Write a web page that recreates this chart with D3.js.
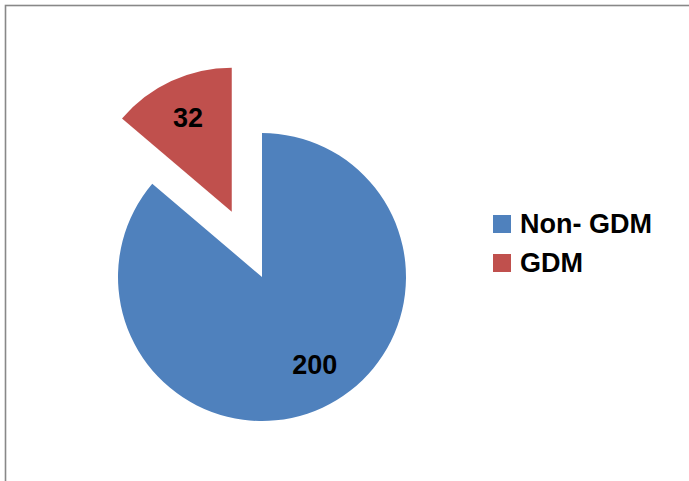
<!DOCTYPE html>
<meta charset="utf-8">
<style>
body{ margin: 0; background: white; }
svg{ display: block; font-family: "Liberation Sans", Arial, sans-serif; }
</style>
<body>
<div id="chart"></div>
<script src="https://cdn.jsdelivr.net/npm/d3@7"></script>
<script>
var categories = ['Non- GDM', 'GDM']
var values = [200, 32]
var colors = ['#4F81BD', '#C0504D']
var exploded = [0, 72]

var width = 689, height = 481,
    cx = 262, cy = 277, r = 144

var svg = d3.select('#chart').append('svg')
    .attr('width', width)
    .attr('height', height)

// chart frame (right and bottom run off the picture)
svg.append('rect')
    .attr('x', 5.5).attr('y', 5.5)
    .attr('width', 720).attr('height', 520)
    .attr('fill', 'none')
    .attr('stroke', '#888')
    .attr('stroke-width', 1.6)

var pie = d3.pie().sort(null)
var arcs = pie(values)
var arc = d3.arc().innerRadius(0).outerRadius(r)
var labelArc = d3.arc().innerRadius(104).outerRadius(104)

var g = svg.append('g').attr('transform', 'translate(' + cx + ',' + cy + ')')

var slice = g.selectAll('g.slice').data(arcs).enter()
  .append('g')
    .attr('class', 'slice')
    .attr('transform', function(d, i){
      var a = (d.startAngle + d.endAngle) / 2
      return 'translate(' + exploded[i] * Math.sin(a) + ',' + (-exploded[i] * Math.cos(a)) + ')'
    })

slice.append('path')
    .attr('d', arc)
    .attr('fill', function(d, i){ return colors[i] })

slice.append('text')
    .attr('transform', function(d){
      var c = labelArc.centroid(d)
      // best-fit nudge: large slice label sits a bit toward the right
      if (d.endAngle - d.startAngle > Math.PI) c[0] += 9, c[1] -= 7
      return 'translate(' + c + ')'
    })
    .attr('text-anchor', 'middle')
    .attr('dy', '0.35em')
    .attr('font-size', 27)
    .attr('font-weight', 'bold')
    .attr('fill', '#000')
    .text(function(d){ return d.value })

// legend
var legend = svg.selectAll('g.legend').data(categories).enter()
  .append('g')
    .attr('class', 'legend')
    .attr('transform', function(d, i){ return 'translate(493,' + (215 + i * 39) + ')' })

legend.append('rect')
    .attr('width', 18).attr('height', 18)
    .attr('fill', function(d, i){ return colors[i] })

legend.append('text')
    .attr('x', 27).attr('y', 18)
    .attr('font-size', 27)
    .attr('font-weight', 'bold')
    .attr('fill', '#000')
    .text(function(d){ return d })
</script>
